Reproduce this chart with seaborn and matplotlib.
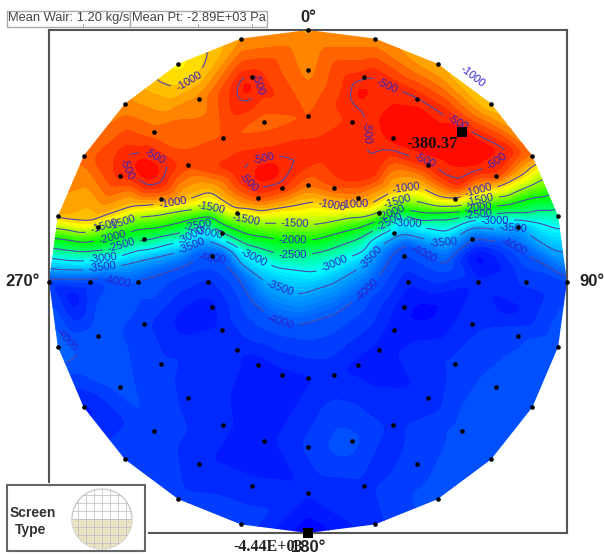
# -*- coding: utf-8 -*-
import numpy as np
import seaborn as sns
import matplotlib.pyplot as plt
import matplotlib.tri as mtri
from matplotlib.colors import LinearSegmentedColormap
from matplotlib.patches import Circle, Rectangle, Polygon

# probe rake: 4 rings, 24 spokes, angle clockwise from the top
ring_radii = [0.385, 0.657, 0.84, 1.0]
spoke_angles = list(range(0, 360, 15))
center_pt = -3250

pt_ring1 = [-720, -650, -800, -1500, -3300, -4100, -4250, -4330, -4320, -4300, -4300, -4250,
            -4280, -4300, -4330, -4250, -4250, -4300, -4200, -4000, -2500, -1200, -620, -530]
pt_ring2 = [-650, -540, -450, -500, -1000, -4000, -4250, -4200, -4150, -4250, -4200, -4050,
            -4150, -4300, -4250, -4200, -4150, -4150, -4050, -2400, -800, -600, -640, -700]
pt_ring3 = [-780, -500, -480, -380.37, -560, -3500, -4150, -4100, -4040, -4050, -4150, -4200,
            -4250, -4250, -4250, -4100, -4050, -4020, -4150, -1400, -520, -700, -800, -490]
pt_ring4 = [-850, -800, -950, -1050, -750, -2700, -4100, -4010, -4010, -4010, -4020, -4200,
            -4440, -4100, -4150, -4100, -4300, -3880, -4150, -900, -700, -800, -1150, -850]

# contour lines (pixels), they hold the field between the rings
line_500 = [(127, 153), (147, 150), (167, 163), (169, 170), (163, 185), (147, 188), (133, 178), (125, 165),
            (241, 77), (252, 76), (260, 88), (250, 102), (236, 98), (237, 85),
            (242, 163), (253, 160), (283, 155), (293, 170), (283, 183), (260, 190), (243, 183), (237, 170),
            (352, 82), (370, 73), (388, 83), (450, 117), (467, 128), (513, 151), (477, 173), (460, 186),
            (443, 177), (387, 151), (372, 175), (353, 178), (343, 173), (325, 151), (353, 147), (367, 135),
            (363, 113), (350, 98)]
line_1000 = [(92, 224), (112, 215), (136, 207), (159, 205), (184, 203), (210, 193), (235, 210), (260, 212),
             (290, 207), (315, 202), (343, 207), (367, 208), (393, 193), (420, 188), (440, 198), (457, 199),
             (470, 193), (493, 188), (525, 174), (150, 85), (177, 88), (200, 75), (223, 47),
             (452, 75), (470, 95), (497, 113)]
line_1500 = [(82, 233), (106, 223), (129, 218), (159, 215), (184, 210), (210, 207), (240, 218), (263, 223),
             (315, 225), (360, 218), (380, 212), (400, 200), (423, 203), (440, 207), (457, 207), (473, 202),
             (507, 197), (535, 184)]
line_2000 = [(54, 242), (82, 243), (106, 240), (129, 233), (159, 228), (184, 222), (210, 217), (223, 225),
             (247, 235), (280, 240), (315, 240), (360, 228), (380, 220), (400, 210), (423, 213), (440, 213),
             (457, 212), (473, 209), (507, 205), (545, 195)]
line_2500 = [(52, 248), (82, 252), (106, 250), (129, 242), (159, 237), (184, 232), (208, 223), (222, 233),
             (247, 245), (280, 255), (315, 253), (360, 238), (380, 228), (400, 215), (423, 222), (440, 219),
             (457, 218), (473, 215), (507, 213), (550, 210)]
line_3000 = [(52, 258), (89, 260), (116, 258), (149, 250), (184, 242), (193, 233), (210, 232), (243, 253),
             (277, 267), (315, 272), (343, 260), (367, 250), (383, 233), (400, 220), (423, 227), (445, 232),
             (473, 220), (507, 220), (540, 223), (558, 230)]
line_3500 = [(53, 268), (89, 270), (116, 265), (149, 258), (184, 250), (193, 245), (210, 240), (237, 257),
             (267, 283), (300, 294), (333, 283), (360, 267), (377, 247), (405, 235), (420, 238), (445, 243),
             (473, 227), (523, 227), (560, 242)]
line_4000 = [(55, 278), (89, 278), (132, 282), (160, 272), (187, 263), (195, 253), (223, 253), (237, 273),
             (253, 300), (277, 320), (300, 323), (333, 313), (357, 297), (373, 283), (393, 250), (407, 242),
             (420, 250), (445, 263), (457, 250), (473, 238), (500, 240), (523, 250), (560, 268),
             (53, 333), (73, 347), (74, 358), (67, 363)]
line_levels = [-500, -1000, -1500, -2000, -2500, -3000, -3500, -4000]

# dark and light spots seen between the probes
spot_px = [(147, 170), (247, 88), (265, 172), (395, 125), (475, 150), (430, 140), (360, 95),
           (427, 310), (193, 317), (73, 297), (253, 393), (263, 443), (343, 443), (477, 257), (513, 310), (517, 413)]
spot_pt = [-420, -430, -420, -430, -400, -410, -440,
           -4400, -4350, -4350, -4300, -4320, -4030, -4420, -4300, -4020]

contour_levels = [-4000, -3500, -3000, -2500, -2000, -1500, -1000, -500]
stop_values = [-4440, -4000, -3000, -2000, -1150, -380]
stop_colors = ['#0000ff', '#0058ff', '#00ffff', '#00ff00', '#ffff00', '#ff0000']

# where the contour labels sit in the picture, pixels
label_px = [(190, 83), (263, 82), (157, 152), (122, 171), (263, 157), (244, 189), (173, 206),
            (210, 211), (247, 215), (102, 223), (123, 227), (197, 223), (210, 230), (113, 239),
            (122, 247), (193, 240), (103, 258), (102, 268), (193, 248), (212, 252), (254, 257),
            (295, 225), (293, 241), (293, 255), (457, 83), (388, 84), (458, 122), (372, 133),
            (423, 166), (501, 168), (353, 182), (406, 187), (479, 192), (480, 200), (478, 207),
            (478, 213), (332, 205), (398, 202), (390, 210), (388, 220), (408, 223), (495, 218),
            (513, 227), (513, 247), (443, 243), (423, 255), (370, 257), (335, 265), (67, 339),
            (117, 282), (280, 288), (280, 320), (367, 290)]

W, H = 604, 556
L, R, T, B = 49, 567, 30, 533

sns.set_theme(style="white")
plt.rcParams['font.family'] = ['Liberation Sans', 'DejaVu Sans']


def px2data(p):
    return ((p[0] - (L + R) / 2) / ((R - L) / 2), ((T + B) / 2 - p[1]) / ((B - T) / 2))


def soften(z, w, n=9):
    # triangle kernel along both axes, weighted so the outside does not leak in
    k = np.convolve(np.ones(n), np.ones(n))
    k = k / k.sum()
    for axis in (0, 1):
        z = np.apply_along_axis(np.convolve, axis, z, k, mode='same')
        w = np.apply_along_axis(np.convolve, axis, w, k, mode='same')
    return np.ma.masked_where(w <= 0, z / np.where(w > 0, w, 1))


# probe positions
ang = np.radians(spoke_angles)
xs, ys, vals = [0.0], [0.0], [center_pt]
for r, ring in zip(ring_radii, [pt_ring1, pt_ring2, pt_ring3, pt_ring4]):
    xs += list(r * np.sin(ang))
    ys += list(r * np.cos(ang))
    vals += ring
xs, ys, vals = np.array(xs), np.array(ys), np.array(vals, dtype=float)

# field samples = probes + contour lines + spots
sx, sy, sv = list(xs), list(ys), list(vals)
all_lines = [line_500, line_1000, line_1500, line_2000, line_2500, line_3000, line_3500, line_4000]
for lev, line in zip(line_levels, all_lines):
    for p in line:
        dx, dy = px2data(p)
        if np.hypot(dx, dy) < 0.97:
            sx.append(dx)
            sy.append(dy)
            sv.append(lev)
for p, v in zip(spot_px, spot_pt):
    dx, dy = px2data(p)
    sx.append(dx)
    sy.append(dy)
    sv.append(v)

vmin, vmax = stop_values[0], stop_values[-1]
stops = [((v - vmin) / (vmax - vmin), c) for v, c in zip(stop_values, stop_colors)]
cmap = LinearSegmentedColormap.from_list('screen', stops)

fig = plt.figure(figsize=(W / 100, H / 100), dpi=100)
ax = fig.add_axes([L / W, 1 - B / H, (R - L) / W, (B - T) / H])

tri = mtri.Triangulation(sx, sy)
gx, gy = np.meshgrid(np.linspace(-1, 1, R - L), np.linspace(-1, 1, B - T))
field = mtri.LinearTriInterpolator(tri, sv)(gx, gy)
field = soften(field.filled(0.0), (~np.ma.getmaskarray(field)).astype(float))

outline = Polygon(np.column_stack([np.sin(ang), np.cos(ang)]), closed=True, transform=ax.transData, fc='none', ec='none')
ax.add_patch(outline)

cf = ax.contourf(gx, gy, field, levels=np.linspace(vmin - 5, vmax + 5, 46), cmap=cmap, vmin=vmin, vmax=vmax,
                 extend='both')
cf.set_clip_path(outline)
cs = ax.contour(gx, gy, field, levels=contour_levels, colors='#4a4aa8', linewidths=0.8, linestyles='solid')
cs.set_clip_path(outline)
ax.clabel(cs, manual=[px2data(p) for p in label_px], fmt='%d', fontsize=8, colors='#2f22c8', inline=True)

# probes, and the two extremes as squares
sns.scatterplot(x=xs[1:], y=ys[1:], ax=ax, color='black', s=11, marker='o', linewidth=0, clip_on=False, zorder=5)
imax, imin = vals.argmax(), vals.argmin()
sns.scatterplot(x=[xs[imax], xs[imin]], y=[ys[imax], ys[imin]], ax=ax, color='black', s=42, marker='s',
                linewidth=0, clip_on=False, zorder=5)

ax.set_xlim(-1, 1)
ax.set_ylim(-1, 1)
ax.set_xticks([])
ax.set_yticks([])
for s in ax.spines.values():
    s.set_visible(True)
    s.set_color('#555555')
    s.set_linewidth(1.5)

ax.text(xs[imax] - 0.116, ys[imax] - 0.048, '%.2f' % vals[imax], family='Liberation Serif', weight='bold',
        fontsize=12, color='#111111', ha='center', va='center', zorder=6)

# overlay in pixels for the frame texts and boxes
ov = fig.add_axes([0, 0, 1, 1], zorder=10)
ov.set_xlim(0, W)
ov.set_ylim(H, 0)
ov.axis('off')
ov.patch.set_alpha(0)

ov.text(308, 17, '0°', weight='bold', fontsize=12, ha='center', va='center', color='#222222')
ov.text(40, 281, '270°', weight='bold', fontsize=12, ha='right', va='center', color='#222222')
ov.text(579, 281, '90°', weight='bold', fontsize=12, ha='left', va='center', color='#222222')

# screen type box
ov.add_patch(Rectangle((0, 483), 148, 73, fc='white', ec='none'))
ov.add_patch(Rectangle((7, 485), 138, 66, fc='white', ec='#666666', lw=1.5))
ov.text(10, 513, 'Screen', weight='bold', fontsize=10, va='center', color='#333333')
ov.text(15, 530, 'Type', weight='bold', fontsize=10, va='center', color='#333333')
disc = Circle((102, 519), 30, fc='white', ec='#cccccc', lw=1)
ov.add_patch(disc)
band = Rectangle((72, 519), 60, 30, fc='#e9e3c4', ec='none')
ov.add_patch(band)
band.set_clip_path(disc)
for g in range(-24, 30, 8):
    for ln in (ov.plot([102 + g, 102 + g], [489, 549], color='#bbbbbb', lw=0.5)[0],
               ov.plot([72, 132], [519 + g, 519 + g], color='#bbbbbb', lw=0.5)[0]):
        ln.set_clip_path(disc)

ov.text(308, 547, '180°', weight='bold', fontsize=12, ha='center', va='center', color='#222222')
ov.text(233, 547, '-4.44E+03', family='Liberation Serif', weight='bold', fontsize=11.5, ha='left', va='center',
        color='#222222')

ov.add_patch(Rectangle((7, 11), 123, 16, fc='white', ec='#aaaaaa', lw=1))
ov.add_patch(Rectangle((130, 11), 137, 16, fc='white', ec='#aaaaaa', lw=1))
ov.text(8.5, 18, 'Mean Wair: 1.20 kg/s', fontsize=9.3, va='center', color='#444444')
ov.text(131.5, 18, 'Mean Pt: -2.89E+03 Pa', fontsize=9.3, va='center', color='#444444')
for tx in [83, 198, 252]:
    ov.plot([tx, tx], [24, 27], color='#aaaaaa', lw=0.8)
ov.set_xlim(0, W)
ov.set_ylim(H, 0)

fig.savefig('out.png', dpi=100)
